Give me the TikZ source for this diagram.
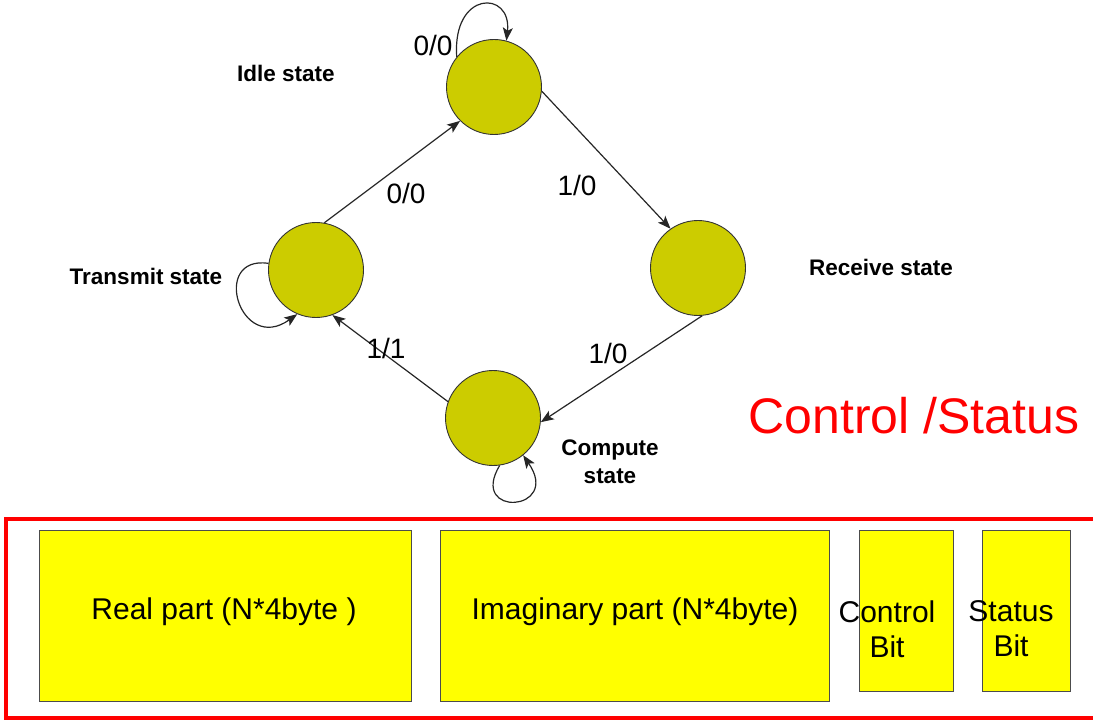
\documentclass[tikz,border=0pt]{standalone}
\usepackage{fontspec}
\setmainfont{Liberation Sans}
\usetikzlibrary{arrows.meta}
\definecolor{stfill}{HTML}{CCCC00}
\definecolor{fieldfill}{HTML}{FFFF00}
\definecolor{ctrlred}{HTML}{FF0000}
\tikzset{
  state/.style={circle, draw=black!80, fill=stfill, line width=0.9pt, minimum size=95pt, inner sep=0pt},
  trans/.style={draw=black!85, line width=1.2pt, -{Stealth[length=13pt,width=10pt,inset=3pt]}},
  elabel/.style={font=\fontsize{28}{30}\selectfont, inner sep=0pt},
  slabel/.style={font=\fontsize{22.5}{28}\selectfont\bfseries, inner sep=0pt, align=center},
  field/.style={draw=black!70, fill=fieldfill, line width=0.9pt, inner sep=0pt},
  ftext/.style={font=\fontsize{30}{35}\selectfont, inner sep=0pt, align=center}
}
\begin{document}
\begin{tikzpicture}[x=1pt,y=-1pt]
\useasboundingbox (0,0) rectangle (1093,722);

% states
\node[state] (idle) at (494,87) {};
\node[state] (tx) at (316,270) {};
\node[state] (rx) at (698,268) {};
\node[state] (cmp) at (493,418) {};

% state names
\node[slabel] (lidle) at (286,73) {Idle state};
\node[slabel] (ltx) at (146,276) {Transmit state};
\node[slabel] (lrx) at (881,267) {Receive state};
\node[slabel] (lcmp) at (610,462) {Compute\\state};

% transitions
\draw[trans] (tx.80) -- (idle.225);
\draw[trans] (idle.-5) -- (rx.125);
\draw[trans] (rx.-85) -- (cmp.-5);
\draw[trans] (cmp.160) -- (tx.-70);

\node[elabel] (e1) at (406,193) {0/0};
\node[elabel] (e2) at (577,185) {1/0};
\node[elabel] (e3) at (608,353) {1/0};
\node[elabel] (e4) at (386,348) {1/1};

% self loops
\draw[trans] (idle.141) .. controls (452,-10) and (512,-10) .. (idle.75);
\node[elabel] (e0) at (433,45) {0/0};
\draw[trans] (tx.172) .. controls (210,255) and (240,355) .. (tx.247);
\draw[trans] (cmp.-82) .. controls (468,518) and (562,512) .. (cmp.-51);

% control / status title
\node[font=\fontsize{50}{56}\selectfont, text=ctrlred, inner sep=0pt] (title) at (914,416) {Control /Status};

% register layout
\draw[ctrlred, line width=3.4pt] (1100,519) -- (6,519) -- (6,718) -- (1100,718);
\node[field, minimum width=372pt, minimum height=171pt] (real) at (225,615.5) {};
\node[field, minimum width=389pt, minimum height=171pt] (imag) at (634.5,615.5) {};
\node[field, minimum width=94pt, minimum height=161pt] (cbit) at (906,610.5) {};
\node[field, minimum width=88pt, minimum height=161pt] (sbit) at (1026,610.5) {};

\node[ftext] (treal) at (224,612) {Real part (N*4byte )};
\node[ftext] (timag) at (635,612) {Imaginary part (N*4byte)};
\node[ftext] (tcbit) at (887,629) {Control\\Bit};
\node[ftext] (tsbit) at (1011,629) {Status\\Bit};
\end{tikzpicture}
\end{document}
